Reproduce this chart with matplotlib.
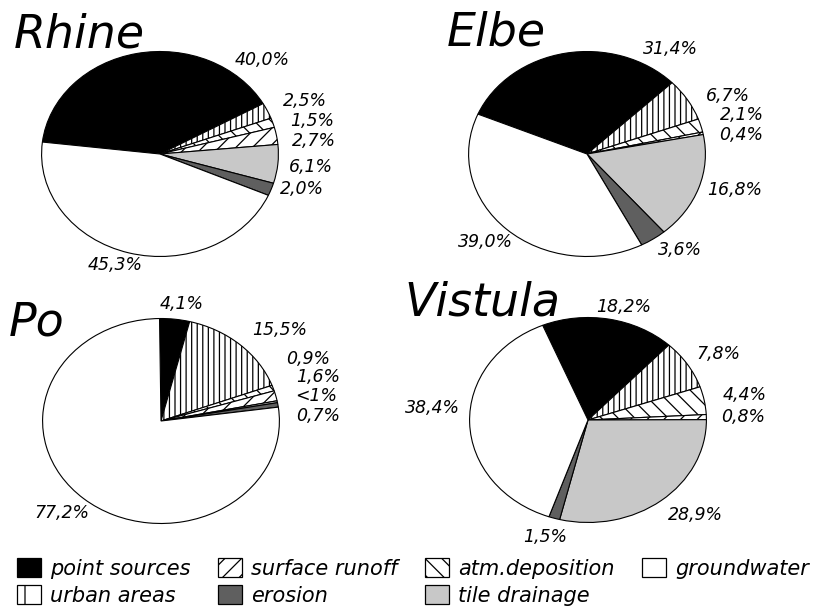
import matplotlib
matplotlib.use("Agg")
import matplotlib.pyplot as plt
from matplotlib.patches import Patch

plt.rcParams['font.family'] = ['DejaVu Sans']
plt.rcParams['hatch.linewidth'] = 0.9

W, H = 820, 611

# ---- data ----
categories = ["point sources", "urban areas", "atm.deposition", "surface runoff",
              "tile drainage", "erosion", "groundwater"]
rivers = ["Rhine", "Elbe", "Po", "Vistula"]
rhine = [40.0, 2.5, 1.5, 2.7, 6.1, 2.0, 45.3]
elbe = [31.4, 6.7, 2.1, 0.4, 16.8, 3.6, 39.0]
po = [4.1, 15.5, 0.9, 1.6, 0.3, 0.7, 77.2]      # "<1%" for tile drainage
vistula = [18.2, 7.8, 4.4, 0.8, 28.9, 1.5, 38.4]
values = [rhine, elbe, po, vistula]

def fmt(v):
    return f"{v:.1f}".replace(".", ",") + "%"

label_override = {("Po", 4): "<1%"}

# ---- styles ----
colors = ["black", "white", "white", "white", "#c8c8c8", "#5f5f5f", "white"]
hatches = [None, "|||", "\\\\", "//", None, None, None]
legend_hatches = [None, "|", "\\\\", "//", None, None, None]

# layout (pixels): pie centre, start angle
pie_layout = {
    "Rhine":   dict(c=(160, 154), start=173.3),
    "Elbe":    dict(c=(587, 154), start=157.1),
    "Po":      dict(c=(161, 421), start=90.7),
    "Vistula": dict(c=(588, 420), start=112.5),
}
RX, RY = 119, 103

title_pos = {"Rhine": (14, 47), "Elbe": (447, 45), "Po": (9, 335), "Vistula": (404, 315)}

label_pos = {
    "Rhine":   [(262, 60), (305, 101), (312, 121), (314, 141), (311, 167), (302, 189), (115, 265)],
    "Elbe":    [(670, 49), (728, 96), (742, 115), (741, 135), (735, 190), (680, 250), (485, 242)],
    "Po":      [(182, 304), (280, 330), (308, 359), (318, 377), (316, 396), (318, 416), (62, 513)],
    "Vistula": [(624, 307), (718, 354), (745, 395), (743, 417), (695, 515), (545, 537), (432, 408)],
}

fig = plt.figure(figsize=(W / 100, H / 100), dpi=100)
fig.patch.set_facecolor("white")

for name, vals in zip(rivers, values):
    lay = pie_layout[name]
    cx, cy = lay["c"]
    ax = fig.add_axes([(cx - RX) / W, 1 - (cy + RY) / H, 2 * RX / W, 2 * RY / H])
    wedges, _ = ax.pie(vals, colors=colors, startangle=lay["start"], counterclock=False,
                       radius=1.0, wedgeprops=dict(edgecolor="black", linewidth=0.8))
    for w, h in zip(wedges, hatches):
        if h:
            w.set_hatch(h)
    ax.set_aspect("auto")
    ax.set_xlim(-1.005, 1.005)
    ax.set_ylim(-1.005, 1.005)
    ax.axis("off")

    tx, ty = title_pos[name]
    fig.text(tx / W, 1 - ty / H, name, fontsize=33, style="italic",
             ha="left", va="baseline")
    for i, (v, (lx, ly)) in enumerate(zip(vals, label_pos[name])):
        s = label_override.get((name, i), fmt(v))
        fig.text(lx / W, 1 - ly / H, s, fontsize=12.5, style="italic",
                 ha="center", va="center")

# ---- legend ----
order = [0, 1, 3, 5, 2, 4, 6]
handles = [Patch(facecolor=colors[i], edgecolor="black", hatch=legend_hatches[i],
                 linewidth=0.9, label=categories[i]) for i in order]
fig.legend(handles=handles, ncol=4, loc="upper left",
           bbox_to_anchor=(17 / W, 1 - 558 / H), frameon=False,
           prop=dict(size=15, style="italic"), handlelength=1.15, handleheight=1.05,
           handletextpad=0.45, columnspacing=1.3, labelspacing=0.3,
           borderpad=0, borderaxespad=0)

fig.savefig("out.png", dpi=100)
